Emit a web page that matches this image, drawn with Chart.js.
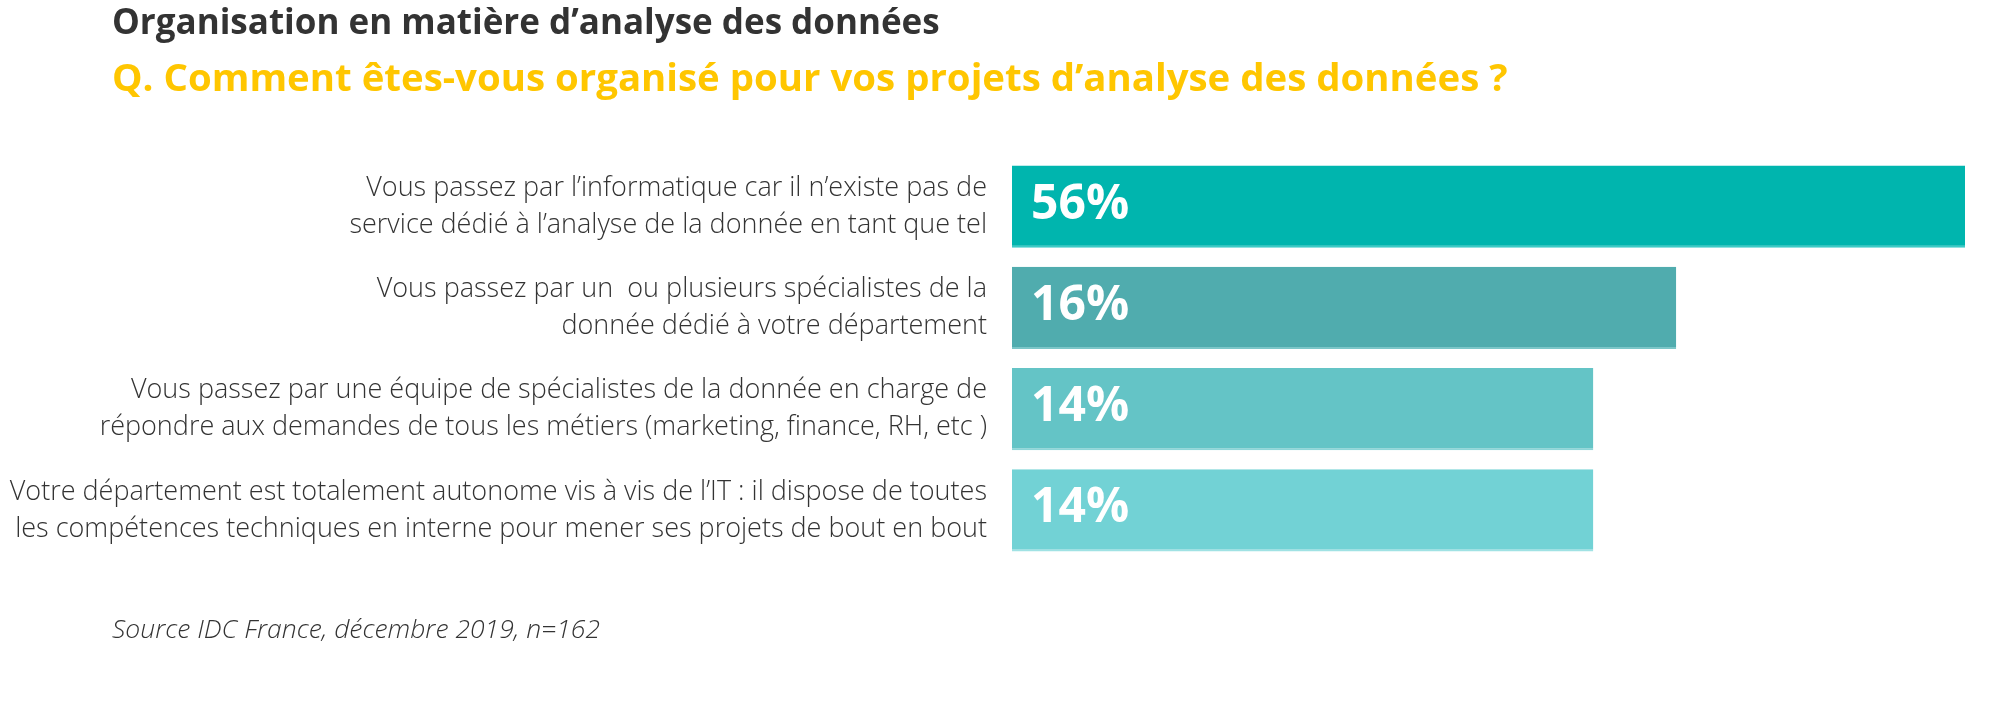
<!DOCTYPE html>
<html lang="fr">
<head>
<meta charset="utf-8">
<title>Organisation en matière d’analyse des données</title>
<script src="https://cdn.jsdelivr.net/npm/chart.js@4.4.1/dist/chart.umd.min.js"></script>
<style>
  body { margin: 0; background: #fff; font-family: 'Open Sans', sans-serif; }
  .wrap { position: relative; width: 1990px; height: 722px; overflow: hidden; }
  .wrap canvas { position: absolute; left: 0; top: 0; }
  h1, h2, p { position: absolute; margin: 0; left: 112px; white-space: nowrap; line-height: 1; z-index: 1; }
  h1 { top: 3px; font-size: 35px; font-weight: 700; color: #333; }
  h2 { top: 57px; font-size: 38.4px; font-weight: 700; color: #ffc600; }
  p { top: 615px; font-size: 26.5px; font-weight: 300; font-style: italic; color: #333; }
</style>
</head>
<body>
<div class="wrap">
  <h1>Organisation en matière d’analyse des données</h1>
  <h2>Q. Comment êtes-vous organisé pour vos projets d’analyse des données ?</h2>
  <canvas id="chart" width="1990" height="722"></canvas>
  <p>Source IDC France, décembre 2019, n=162</p>
</div>
<script>
const categories = [
  ['Vous passez par l’informatique car il n’existe pas de', 'service dédié à l’analyse de la donnée en tant que tel'],
  ['Vous passez par un  ou plusieurs spécialistes de la', 'donnée dédié à votre département'],
  ['Vous passez par une équipe de spécialistes de la donnée en charge de', 'répondre aux demandes de tous les métiers (marketing, finance, RH, etc )'],
  ['Votre département est totalement autonome vis à vis de l’IT : il dispose de toutes', 'les compétences techniques en interne pour mener ses projets de bout en bout']
];
// shares printed on the bars
const shares = [56, 16, 14, 14];
// the source infographic does not draw its bars to scale:
// bar lengths, in % of the longest bar
const barLength = [100, 69.7, 61, 61];
const barColors = ['#00b5ae', '#50acae', '#64c4c6', '#72d2d5'];
const edgeColors = ['#3ccbc6', '#7cc6c8', '#8ed6d8', '#a0e2e4'];

// white percentage inside each bar
const pctLabels = {
  id: 'pctLabels',
  afterDatasetsDraw(chart) {
    const ctx = chart.ctx;
    ctx.save();
    ctx.font = 'bold 48px "Open Sans"';
    ctx.fillStyle = '#fff';
    ctx.textBaseline = 'alphabetic';
    chart.getDatasetMeta(0).data.forEach((bar, i) => {
      ctx.fillText(shares[i] + '%', bar.base + 19, bar.y + 12);
    });
    ctx.restore();
  }
};

new Chart(document.getElementById('chart'), {
  type: 'bar',
  data: {
    labels: categories,
    datasets: [{
      data: barLength,
      backgroundColor: barColors,
      borderColor: edgeColors,
      borderWidth: { top: 0, right: 0, bottom: 2, left: 0 },
      borderSkipped: false,
      categoryPercentage: 1,
      barPercentage: 0.81
    }]
  },
  options: {
    indexAxis: 'y',
    responsive: false,
    animation: false,
    layout: { padding: { top: 156, bottom: 161, left: 0, right: 25 } },
    plugins: {
      legend: { display: false },
      tooltip: { enabled: false }
    },
    scales: {
      x: { display: false, min: 0, max: 100 },
      y: {
        border: { display: false },
        grid: { display: false, drawTicks: false },
        ticks: {
          padding: 25,
          color: '#333',
          font: { family: 'Open Sans', size: 27, weight: 300, lineHeight: 1.37 }
        },
        afterFit(scale) { scale.width = 1012; }
      }
    }
  },
  plugins: [pctLabels]
});
</script>
</body>
</html>
